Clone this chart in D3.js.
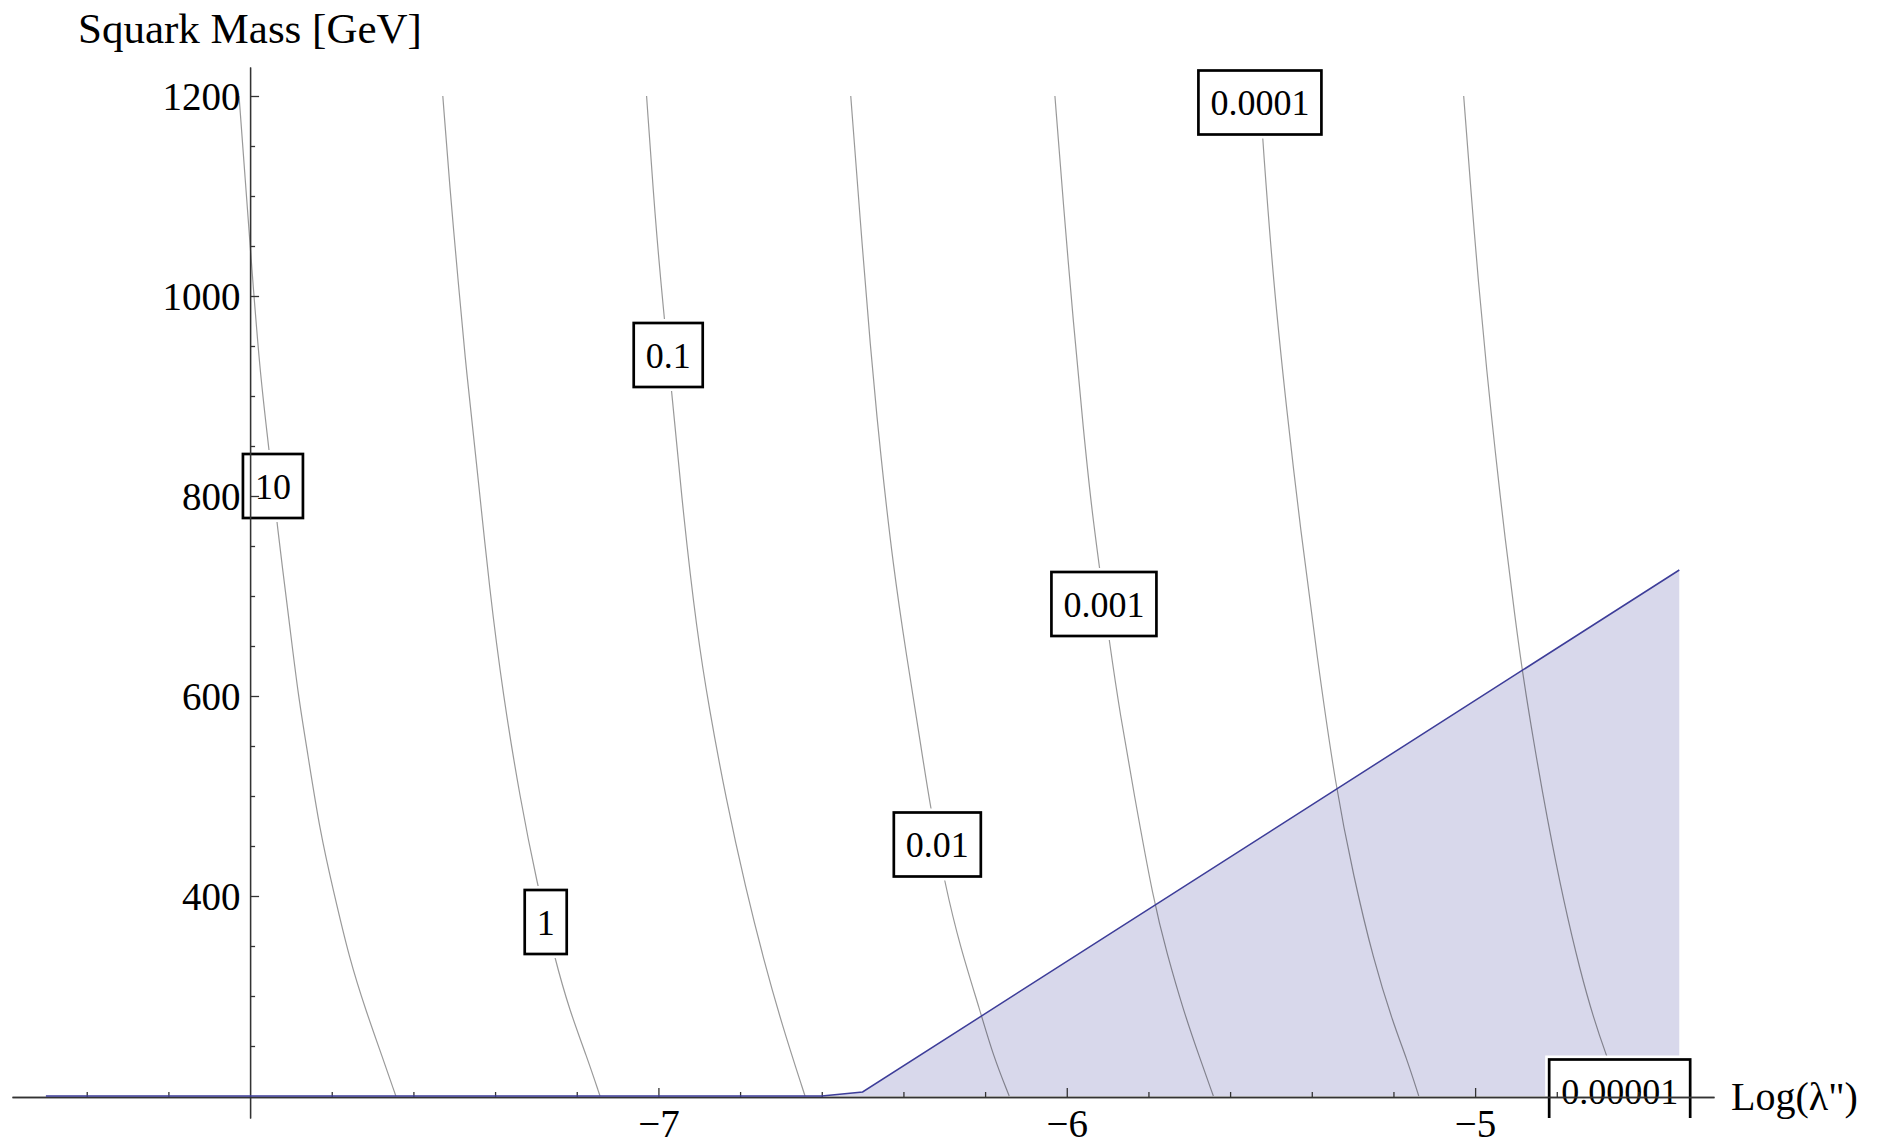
<!DOCTYPE html>
<html>
<head>
<meta charset="utf-8">
<script src="https://cdn.jsdelivr.net/npm/d3@7"></script>
<style>
  html, body { margin: 0; padding: 0; background: #fff; }
  svg { display: block; font-family: "Liberation Serif", "Times New Roman", Times, serif; }
</style>
</head>
<body>
<svg id="chart" width="1885" height="1144"></svg>
<script>
// ---- data: contour lines of constant decay length, as [log10(λ''), squark mass in GeV] ----
const contourLevels = ["10", "1", "0.1", "0.01", "0.001", "0.0001", "0.00001"];

const contour10 = [[-8.027,1200],[-8.013,1123],[-8.000,1051],[-7.976,923],[-7.954,849],[-7.934,771],
  [-7.903,671],[-7.882,600],[-7.859,543],[-7.829,465],[-7.797,407],[-7.756,336],[-7.716,285],[-7.677,240],[-7.643,200]];
const contour1 = [[-7.528,1200],[-7.511,1109],[-7.490,1013],[-7.470,923],[-7.445,832],[-7.413,704],
  [-7.380,600],[-7.339,498],[-7.298,414],[-7.253,336],[-7.217,285],[-7.176,240],[-7.143,200]];
const contour01 = [[-7.029,1200],[-7.008,1077],[-6.988,987],[-6.967,903],[-6.939,781],[-6.906,665],
  [-6.876,588],[-6.835,498],[-6.786,407],[-6.742,336],[-6.698,272],[-6.641,200]];
const contour001 = [[-6.529,1200],[-6.506,1077],[-6.481,948],[-6.457,845],[-6.425,729],[-6.392,639],
  [-6.359,555],[-6.335,491],[-6.298,411],[-6.261,349],[-6.212,285],[-6.180,240],[-6.141,200]];
const contour0001 = [[-6.029,1200],[-6.008,1090],[-5.984,974],[-5.959,865],[-5.939,787],[-5.920,729],
  [-5.895,652],[-5.869,581],[-5.836,504],[-5.787,394],[-5.755,343],[-5.714,285],[-5.676,240],[-5.641,200]];
const contour00001 = [[-5.527,1200],[-5.520,1155],[-5.494,1013],[-5.461,884],[-5.428,768],[-5.387,639],
  [-5.342,510],[-5.298,420],[-5.249,336],[-5.200,272],[-5.168,238],[-5.138,200]];
const contour000001 = [[-5.028,1200],[-5.011,1109],[-4.992,1013],[-4.971,923],[-4.951,845],[-4.926,755],
  [-4.902,678],[-4.885,626],[-4.857,555],[-4.824,478],[-4.783,394],[-4.742,324],[-4.710,278],[-4.681,243],[-4.641,200]];
const contourLines = [contour10, contour1, contour01, contour001, contour0001, contour00001, contour000001];

// where each level's label sits on its line [log10(λ''), mass]
const labelAnchors = [[-7.944,810],[-7.276,374],[-6.976,941],[-6.317,451.5],[-5.909,692],[-5.527,1193.5],[-4.646,204.5]];

// excluded region: boundary of the shaded area
const boundaryLogLambda = [-8.5, -6.6, -6.5, -4.5];
const boundaryMass      = [200,  200,  204,  726];

// ticks
const xMajorTicks = [-7, -6, -5];
const xMinorTicks = [-8.4,-8.2,-7.8,-7.6,-7.4,-7.2,-6.8,-6.6,-6.4,-6.2,-5.8,-5.6,-5.4,-5.2,-4.8,-4.6];
const yMajorTicks = [400, 600, 800, 1000, 1200];
const yMinorTicks = [250,300,350,450,500,550,650,700,750,850,900,950,1050,1100,1150];

// ---- layout ----
const svg = d3.select("#chart");
const xDomain = [-8.583, -4.415], yDomain = [178, 1229];
const x = d3.scaleLinear().domain(xDomain).range([12, 1714]);
const y = d3.scaleLinear().domain(yDomain).range([1118, 67]);
const xOrigin = -8, yOrigin = 200;

svg.append("defs").append("clipPath").attr("id", "plotClip")
  .append("rect")
  .attr("x", x(xDomain[0])).attr("y", y(yDomain[1]))
  .attr("width", x(xDomain[1]) - x(xDomain[0]))
  .attr("height", y(yDomain[0]) - y(yDomain[1]));

const plot = svg.append("g").attr("clip-path", "url(#plotClip)");

// shaded region below the boundary
const boundary = boundaryLogLambda.map((l, i) => [l, boundaryMass[i]]);
const area = d3.area().x(d => x(d[0])).y0(y(yOrigin)).y1(d => y(d[1]));
plot.append("path").datum(boundary)
  .attr("d", area)
  .attr("fill", "#d8d8eb");

// contour lines
const contourPath = d3.line().x(d => x(d[0])).y(d => y(d[1])).curve(d3.curveBasis);
plot.selectAll("path.contour").data(contourLines).join("path")
  .attr("class", "contour")
  .attr("d", contourPath)
  .attr("fill", "none")
  .attr("stroke", "#000")
  .attr("stroke-opacity", 0.4)
  .attr("stroke-width", 1.2);

// framed level labels
const labels = plot.selectAll("g.lbl").data(contourLevels).join("g")
  .attr("class", "lbl")
  .attr("transform", (d, i) => `translate(${x(labelAnchors[i][0])},${y(labelAnchors[i][1])})`);
labels.append("rect").attr("class", "bg").attr("fill", "#fff");
labels.append("rect").attr("class", "frame").attr("fill", "none").attr("stroke", "#000").attr("stroke-width", 2.7);
labels.append("text")
  .attr("text-anchor", "middle")
  .attr("dy", "0.35em")
  .attr("font-size", 36)
  .attr("fill", "#000")
  .text(d => d)
  .each(function () {
    const w = this.getComputedTextLength() + 24, h = 64;
    const g = d3.select(this.parentNode);
    g.select("rect.bg").attr("x", -w / 2 - 4).attr("y", -h / 2 - 4).attr("width", w + 8).attr("height", h + 8);
    g.select("rect.frame").attr("x", -w / 2).attr("y", -h / 2).attr("width", w).attr("height", h);
  });

// axes (drawn over the labels)
const axisColor = "#333";
function styleAxis(g) {
  g.attr("font-family", null).attr("font-size", null);
  g.select(".domain").attr("stroke", axisColor).attr("stroke-width", 1.3);
  g.selectAll(".tick line").attr("stroke", axisColor).attr("stroke-width", 1.3);
  g.selectAll(".tick text").attr("fill", "#000").attr("font-size", 39);
}

const xAxisY = y(yOrigin) + 1;
svg.append("g").attr("transform", `translate(0,${xAxisY})`)
  .call(d3.axisBottom(x).tickValues(xMinorTicks).tickSize(-5).tickSizeOuter(0).tickFormat(""))
  .call(styleAxis);
svg.append("g").attr("transform", `translate(0,${xAxisY})`)
  .call(d3.axisBottom(x).tickValues(xMajorTicks).tickSize(-9).tickSizeOuter(0).tickPadding(12)
    .tickFormat(d => "\u2212" + Math.abs(d)))
  .call(styleAxis);

svg.append("g").attr("transform", `translate(${x(xOrigin)},0)`)
  .call(d3.axisLeft(y).tickValues(yMinorTicks).tickSize(-5).tickSizeOuter(0).tickFormat(""))
  .call(styleAxis);
svg.append("g").attr("transform", `translate(${x(xOrigin)},0)`)
  .call(d3.axisLeft(y).tickValues(yMajorTicks).tickSize(-9).tickSizeOuter(0).tickPadding(9.5)
    .tickFormat(d3.format("d")))
  .call(styleAxis)
  .selectAll(".tick text").attr("dy", "0.34em");

// boundary line of the shaded region, drawn over the axis
svg.append("g").attr("clip-path", "url(#plotClip)")
  .append("path").datum(boundary)
  .attr("d", d3.line().x(d => x(d[0])).y(d => y(d[1])))
  .attr("fill", "none")
  .attr("stroke", "#3d3d99")
  .attr("stroke-width", 1.5);

// axis titles
svg.append("text")
  .attr("x", 78).attr("y", 43)
  .attr("font-size", 43)
  .attr("fill", "#000")
  .text("Squark Mass [GeV]");
svg.append("text")
  .attr("x", 1731).attr("y", 1110)
  .attr("font-size", 40)
  .attr("fill", "#000")
  .text("Log(\u03bb\")");
</script>
</body>
</html>
